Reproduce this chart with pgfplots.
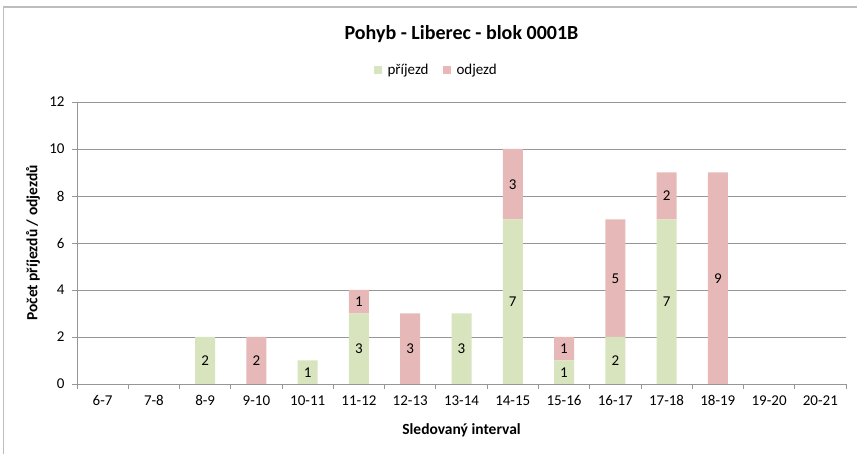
\documentclass[border=0pt]{standalone}
\usepackage{pgfplots}
\pgfplotsset{compat=1.18}
\usepackage{fontspec}
\setmainfont{Carlito}
\definecolor{prij}{HTML}{D7E4BD}
\definecolor{odj}{HTML}{E6B9B8}
\definecolor{gridc}{HTML}{969696}
\definecolor{framec}{HTML}{BDBDBD}
\begin{document}
\begin{tikzpicture}[x=1pt,y=1pt]
\useasboundingbox (0,0) rectangle (857,454);
\begin{scope}
\clip (0,0) rectangle (857,454);
\draw[framec, line width=1.5pt] (3.5,-10) rectangle (870,447);
\end{scope}
\pgfplotsset{common/.style={
  at={(77pt,70pt)}, anchor=south west, scale only axis,
  width=769pt, height=282pt, xmin=-0.5, xmax=14.5, ymin=0, ymax=12}}
\begin{axis}[common, ybar stacked, bar width=20pt,
  axis x line*=bottom, axis y line*=left,
  axis line style={gridc, line width=0.8pt, -},
  ytick={0,2,...,12}, ymajorgrids,
  grid style={gridc, line width=0.8pt},
  xtick={-0.5,0.5,...,14.5}, x tick label as interval,
  xticklabels={6-7,7-8,8-9,9-10,10-11,11-12,12-13,13-14,14-15,15-16,16-17,17-18,18-19,19-20,20-21},
  tick align=outside, major tick length=5pt,
  tick style={gridc, line width=0.8pt},
  /pgf/number format/assume math mode=true,
  tick label style={font=\fontsize{15}{18}\selectfont},
  yticklabel style={xshift=-4pt},
  xticklabel style={yshift=-3pt},
  xlabel={\bfseries Sledovaný interval},
  ylabel={\bfseries Počet příjezdů / odjezdů},
  label style={font=\fontsize{15.5}{18}\selectfont},
  xlabel style={at={(axis description cs:0.5,0)}, anchor=center, yshift=-46pt},
  ylabel style={at={(axis description cs:-0.0572,0.5)}, anchor=center, rotate=0},
  title={\bfseries Pohyb - Liberec - blok 0001B},
  title style={font=\fontsize{20}{24}\selectfont, at={(axis description cs:0.5,1)}, anchor=center, yshift=62pt},
  legend style={at={(axis description cs:0.467,1)}, anchor=center, yshift=32pt, draw=none, fill=none,
    legend columns=2, font=\fontsize{15}{18}\selectfont,
    /tikz/column 1/.style={column sep=4pt},
    /tikz/column 2/.style={column sep=12pt},
    /tikz/column 3/.style={column sep=4pt}},
  legend image code/.code={\fill[#1] (0pt,-4pt) rectangle (8pt,4pt);},
  legend cell align=left,
]
\addplot[fill=prij, draw=none] coordinates {(0,0) (1,0) (2,2) (3,0) (4,1) (5,3) (6,0) (7,3) (8,7) (9,1) (10,2) (11,7) (12,0) (13,0) (14,0)};
\addplot[fill=odj, draw=none] coordinates {(0,0) (1,0) (2,0) (3,2) (4,0) (5,1) (6,3) (7,0) (8,3) (9,1) (10,5) (11,2) (12,9) (13,0) (14,0)};
\legend{příjezd, odjezd}
\end{axis}
\begin{axis}[common, hide axis]
\addplot[draw=none, mark=none, nodes near coords, point meta=explicit symbolic,
  every node near coord/.append style={anchor=center, font=\fontsize{15}{18}\selectfont}]
  coordinates {(2,1)[2] (3,1)[2] (4,0.5)[1] (5,1.5)[3] (5,3.5)[1] (6,1.5)[3] (7,1.5)[3]
  (8,3.5)[7] (8,8.5)[3] (9,0.5)[1] (9,1.5)[1] (10,1)[2] (10,4.5)[5] (11,3.5)[7] (11,8)[2] (12,4.5)[9]};
\end{axis}
\end{tikzpicture}
\end{document}
